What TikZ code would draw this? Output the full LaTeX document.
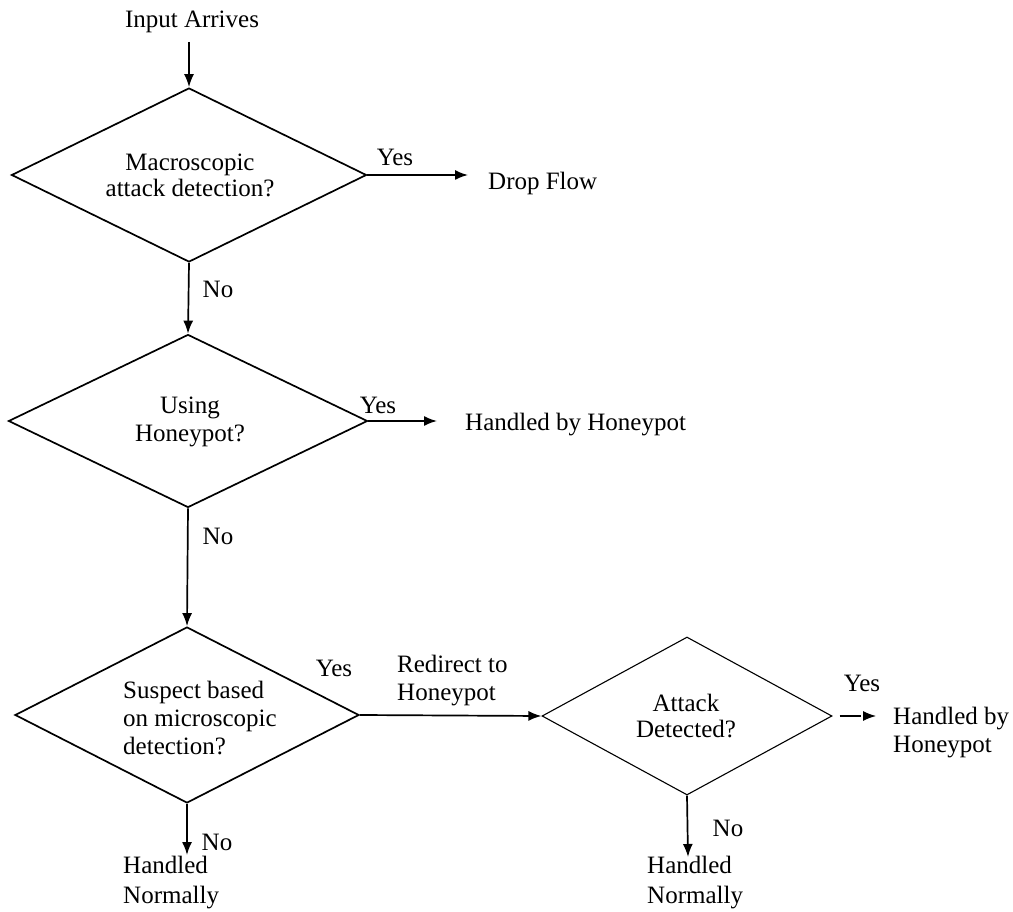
\documentclass[tikz,border=0pt]{standalone}
\usepackage{fontspec}
\setmainfont{Liberation Serif}
\usetikzlibrary{shapes.geometric,arrows.meta}
\begin{document}
\begin{tikzpicture}[x=1pt,y=-1pt,
  txt/.style={inner sep=0pt,font=\fontsize{25}{28}\selectfont},
  decision/.style={draw,shape=diamond,inner sep=0pt,line width=1.7pt},
  flow/.style={line width=1.7pt,-{Latex[length=13pt,width=10pt]}},
  thinflow/.style={line width=1.2pt,-{Latex[length=13pt,width=10pt]}}]
\useasboundingbox (0,0) rectangle (1013,912);

% decisions
\node[decision,minimum width=355pt,minimum height=174pt] (d1) at (189,175) {};
\node[decision,minimum width=359pt,minimum height=173pt] (d2) at (188,421) {};
\node[decision,minimum width=344pt,minimum height=176pt] (d3) at (187,715) {};
\node[decision,line width=1.1pt,minimum width=290pt,minimum height=158pt] (d4) at (687,716) {};

% texts inside decisions
\node[txt,align=center,font=\fontsize{25}{26}\selectfont] (t1) at (190,175) {Macroscopic\\attack detection?};
\node[txt,align=center] (t2) at (190,422) {Using\\Honeypot?};
\node[txt,align=left,anchor=west] (t3) at (123,718) {Suspect based\\on microscopic\\detection?};
\node[txt,align=center,font=\fontsize{25}{26}\selectfont] (t4) at (686,716) {Attack\\Detected?};

% start and outcomes
\node[txt] (start) at (192,22) {Input Arrives};
\node[txt,anchor=west] (drop) at (488,183) {Drop Flow};
\node[txt,anchor=west] (hp1) at (465,425) {Handled by Honeypot};
\node[txt,align=left,anchor=west] (redir) at (397,681) {Redirect to\\Honeypot};
\node[txt,align=left,anchor=west,font=\fontsize{25}{30}\selectfont] (norm1) at (123,883) {Handled\\Normally};
\node[txt,align=left,anchor=west] (hp2) at (893,733) {Handled by\\Honeypot};
\node[txt,align=left,anchor=west,font=\fontsize{25}{30}\selectfont] (norm2) at (647,883) {Handled\\Normally};

% branch labels
\node[txt] (y1) at (395,157) {Yes};
\node[txt] (n1) at (218,289) {No};
\node[txt] (y2) at (378,405) {Yes};
\node[txt] (n2) at (218,536) {No};
\node[txt] (y3) at (334,668) {Yes};
\node[txt] (n3) at (217,842) {No};
\node[txt] (y4) at (862,683) {Yes};
\node[txt] (n4) at (728,828) {No};

% connectors
\coordinate (s0) at (189,42);
\draw[flow] (s0) -- (d1.north);
\draw[flow,shorten >=20pt] (d1.east) -- (d1.east -| drop.west);
\draw[flow] (d1.south) -- (d2.north);
\draw[flow,shorten >=28pt] (d2.east) -- (d2.east -| hp1.west);
\draw[flow] (d2.south) -- (d3.north);
\draw[flow] (d3.east) -- (d4.west);
\coordinate (e3) at (187,855);
\draw[flow] (d3.south) -- (e3);
\coordinate (e4) at (688,857);
\draw[flow] (d4.south) -- (e4);
\coordinate (e5) at (876,716);
\draw[thinflow,dash pattern=on 21pt off 10pt,shorten <=7pt] (d4.east) -- (e5);
\end{tikzpicture}
\end{document}
